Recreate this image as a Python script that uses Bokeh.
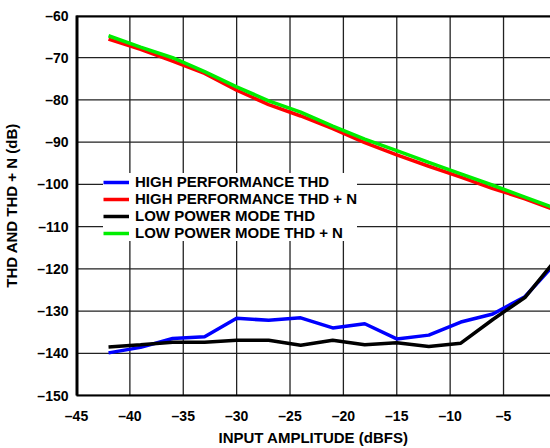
import numpy as np
from bokeh.plotting import figure
from bokeh.models import FixedTicker, Legend, LegendItem
from bokeh.embed import file_html
from bokeh.resources import INLINE

# ---- data ----
amplitude = [-42, -39, -36, -33, -30, -27, -24, -21, -18, -15, -12, -9, -6, -3, 0]
hp_thd = [-139.9, -138.6, -136.5, -136.1, -131.7, -132.2, -131.6, -134.0, -133.0,
          -136.6, -135.7, -132.6, -130.7, -126.6, -118.3]
hp_thdn = [-65.6, -68.0, -70.8, -73.7, -77.7, -81.1, -83.8, -86.8, -90.1,
           -93.0, -95.7, -98.3, -101.0, -103.4, -106.2]
lp_thd = [-138.5, -138.0, -137.4, -137.4, -136.9, -136.9, -138.1, -136.9, -138.0,
          -137.5, -138.4, -137.6, -132.0, -126.8, -117.5]
lp_thdn = [-64.8, -67.5, -70.0, -73.3, -76.9, -80.2, -82.9, -86.2, -89.3,
           -92.0, -94.8, -97.5, -100.2, -103.0, -105.8]

series_names = ["HIGH PERFORMANCE THD", "HIGH PERFORMANCE THD + N",
                "LOW POWER MODE THD", "LOW POWER MODE THD + N"]
series_colors = ["#0000ff", "#ff0000", "#000000", "#00ee00"]

x_ticks = [-45, -40, -35, -30, -25, -20, -15, -10, -5, 0]
x_tick_labels = ["–45", "–40", "–35", "–30", "–25", "–20", "–15", "–10", "–5", "0"]
y_ticks = [-150, -140, -130, -120, -110, -100, -90, -80, -70, -60]
y_tick_labels = ["–150", "–140", "–130", "–120", "–110", "–100", "–90", "–80", "–70", "–60"]

x_label = "INPUT AMPLITUDE (dBFS)"
y_label = "THD AND THD + N (dB)"

FONT = "Liberation Sans"
GRID = "#222222"

x_min, x_max = float(x_ticks[0]), float(x_ticks[-1])
y_min, y_max = float(y_ticks[0]), float(y_ticks[-1])

p = figure(width=550, height=448, x_range=(x_min, -0.6), y_range=(y_min, y_max),
           output_backend="svg", toolbar_location=None,
           min_border_left=76, min_border_right=0, min_border_top=15, min_border_bottom=49)
p.outline_line_color = None
p.xgrid.grid_line_color = None
p.ygrid.grid_line_color = None

p.xaxis.ticker = FixedTicker(ticks=x_ticks)
p.yaxis.ticker = FixedTicker(ticks=y_ticks)
p.xaxis.major_label_overrides = dict(zip(x_ticks, x_tick_labels))
p.yaxis.major_label_overrides = dict(zip(y_ticks, y_tick_labels))

for ax in (p.xaxis, p.yaxis):
    ax.axis_line_color = "black"
    ax.axis_line_width = 2
    ax.major_tick_line_color = None
    ax.minor_tick_line_color = None
    ax.major_tick_in = 0
    ax.major_tick_out = 0
    ax.minor_tick_in = 0
    ax.minor_tick_out = 0
    ax.major_label_text_font = FONT
    ax.major_label_text_font_style = "bold"
    ax.major_label_text_font_size = "14px"
    ax.major_label_text_color = "black"
    ax.axis_label_text_font = FONT
    ax.axis_label_text_font_style = "bold"
    ax.axis_label_text_font_size = "15px"
    ax.axis_label_text_color = "black"

p.xaxis.axis_label = x_label
p.yaxis.axis_label = y_label
p.xaxis.major_label_standoff = 12
p.xaxis.axis_label_standoff = 2
p.yaxis.major_label_standoff = 8
p.yaxis.axis_label_standoff = 14

# grid: one single path (NaN-separated) built from the tick lists,
# so that the drawn path has a non-degenerate bounding box
gx, gy = [], []
for t in x_ticks:
    gx += [float(t), float(t), np.nan]
    gy += [y_min, y_max, np.nan]
for t in y_ticks:
    gx += [x_min, x_max, np.nan]
    gy += [float(t), float(t), np.nan]
p.line(x=np.array(gx), y=np.array(gy), line_color=GRID, line_width=1.3)

# top and left border of the plot box as one bracket-shaped path
p.line(x=np.array([x_min, x_min, x_max]), y=np.array([y_min, y_max, y_max]),
       line_color="black", line_width=4)

series = [hp_thd, hp_thdn, lp_thd, lp_thdn]
draw_order = [0, 2, 1, 3]
renderers = {}
for i in draw_order:
    renderers[i] = p.line(amplitude, series[i], line_color=series_colors[i], line_width=3.5)

items = [LegendItem(label=series_names[i], renderers=[renderers[i]]) for i in range(4)]

legend = Legend(items=items, location=(27, 154))
legend.background_fill_color = "white"
legend.background_fill_alpha = 1.0
legend.border_line_color = None
legend.padding = 5
legend.margin = 0
legend.spacing = -2
legend.glyph_width = 26
legend.glyph_height = 16
legend.label_height = 16
legend.label_standoff = 6
legend.label_text_font = FONT
legend.label_text_font_style = "bold"
legend.label_text_font_size = "15px"
legend.label_text_color = "black"
p.add_layout(legend, "center")

open("out.html", "w").write(file_html(p, INLINE))
